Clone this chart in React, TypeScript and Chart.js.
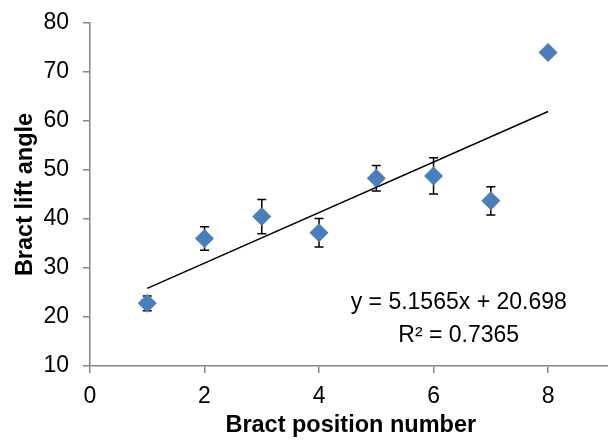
import { useEffect, useRef } from "react";
import { Chart, registerables } from "chart.js";

Chart.register(...registerables);

// ---- data ----
const positions = [1, 2, 3, 4, 5, 6, 7, 8];
const liftAngle = [22.8, 36.0, 40.5, 37.2, 48.3, 48.8, 43.7, 74.0];
const errorSize = [1.5, 2.4, 3.5, 2.9, 2.6, 3.7, 2.9, 0];
const trendSlope = 5.1565;
const trendIntercept = 20.698;
const equationLines = ["y = 5.1565x + 20.698", "R\u00b2 = 0.7365"];
const xTickValues = [0, 2, 4, 6, 8];
const yTickValues = [10, 20, 30, 40, 50, 60, 70, 80];
const xTitle = "Bract position number";
const yTitle = "Bract lift angle";

const FONT = "'Liberation Sans', Arial, sans-serif";
const AXIS = "#868686";
const BLUE = "#4a7ebb";

const errorBarPlugin = {
  id: "errorBars",
  beforeDatasetsDraw(chart: any) {
    const ctx = chart.ctx;
    const ys = chart.scales.y;
    const meta = chart.getDatasetMeta(0);
    ctx.save();
    ctx.strokeStyle = "#000";
    ctx.lineWidth = 1.5;
    meta.data.forEach((pt: any, i: number) => {
      const e = errorSize[i];
      if (!e) return;
      const x = pt.x;
      const yTop = ys.getPixelForValue(liftAngle[i] + e);
      const yBot = ys.getPixelForValue(liftAngle[i] - e);
      ctx.beginPath();
      ctx.moveTo(x, yTop);
      ctx.lineTo(x, yBot);
      ctx.moveTo(x - 4.5, yTop);
      ctx.lineTo(x + 4.5, yTop);
      ctx.moveTo(x - 4.5, yBot);
      ctx.lineTo(x + 4.5, yBot);
      ctx.stroke();
    });
    ctx.restore();
  },
};

const equationPlugin = {
  id: "equation",
  afterDatasetsDraw(chart: any) {
    const ctx = chart.ctx;
    const xs = chart.scales.x;
    const ys = chart.scales.y;
    ctx.save();
    ctx.fillStyle = "#000";
    ctx.font = `23px ${FONT}`;
    ctx.textAlign = "center";
    ctx.textBaseline = "alphabetic";
    const cx = xs.getPixelForValue(6.44);
    ctx.fillText(equationLines[0], cx, ys.getPixelForValue(21.63));
    ctx.fillText(equationLines[1], cx, ys.getPixelForValue(14.84));
    ctx.restore();
  },
};

export default function App() {
  const ref = useRef<HTMLCanvasElement | null>(null);

  useEffect(() => {
    if (!ref.current) return;
    const xStart = positions[0];
    const xEnd = positions[positions.length - 1];
    const chart = new Chart(ref.current, {
      type: "scatter",
      data: {
        datasets: [
          {
            label: "angle",
            data: positions.map((x, i) => ({ x, y: liftAngle[i] })),
            pointStyle: "rectRot",
            pointRadius: 9.5,
            pointBackgroundColor: BLUE,
            pointBorderColor: BLUE,
            pointBorderWidth: 0,
            order: 2,
          },
          {
            label: "trend",
            type: "line",
            data: [
              { x: xStart, y: trendSlope * xStart + trendIntercept },
              { x: xEnd, y: trendSlope * xEnd + trendIntercept },
            ],
            borderColor: "#000",
            borderWidth: 1.5,
            pointRadius: 0,
            fill: false,
            order: 1,
          },
        ],
      },
      options: {
        animation: false,
        responsive: false,
        devicePixelRatio: 1,
        layout: { padding: { top: 23, right: 0, left: 0, bottom: 0 } },
        plugins: {
          legend: { display: false },
          tooltip: { enabled: false },
        },
        scales: {
          x: {
            type: "linear",
            min: 0,
            max: 9.108,
            afterBuildTicks: (s: any) => {
              s.ticks = xTickValues.map((v) => ({ value: v }));
            },
            afterFit: (s: any) => {
              s.height = 74;
              s.paddingLeft = 0;
              s.paddingRight = 0;
            },
            ticks: {
              color: "#000",
              font: { family: FONT, size: 23 },
              padding: 10,
            },
            grid: {
              drawOnChartArea: false,
              drawTicks: true,
              tickLength: 7,
              color: AXIS,
              lineWidth: 1.5,
            },
            border: { color: AXIS, width: 1.5 },
            title: {
              display: true,
              text: xTitle,
              color: "#000",
              font: { family: FONT, size: 23.5, weight: "bold" },
              padding: { top: 0, bottom: 0 },
            },
          },
          y: {
            type: "linear",
            min: 10,
            max: 80,
            afterBuildTicks: (s: any) => {
              s.ticks = yTickValues.map((v) => ({ value: v }));
            },
            afterFit: (s: any) => {
              s.width = 90;
              s.paddingTop = 0;
              s.paddingBottom = 0;
            },
            ticks: {
              color: "#000",
              font: { family: FONT, size: 23 },
              padding: 14,
            },
            grid: {
              drawOnChartArea: false,
              drawTicks: true,
              tickLength: 7,
              color: AXIS,
              lineWidth: 1.5,
            },
            border: { color: AXIS, width: 1.5 },
            title: {
              display: true,
              text: yTitle,
              color: "#000",
              font: { family: FONT, size: 23.5, weight: "bold" },
              padding: { top: 11, bottom: 0 },
            },
          },
        },
      },
      plugins: [errorBarPlugin, equationPlugin],
    } as any);
    return () => chart.destroy();
  }, []);

  return (
    <div
      style={{
        position: "fixed",
        left: 0,
        top: 0,
        width: 608,
        height: 440,
        overflow: "hidden",
        background: "#fff",
      }}
    >
      <canvas ref={ref} width={621} height={440} style={{ width: 621, height: 440, display: "block" }} />
    </div>
  );
}
